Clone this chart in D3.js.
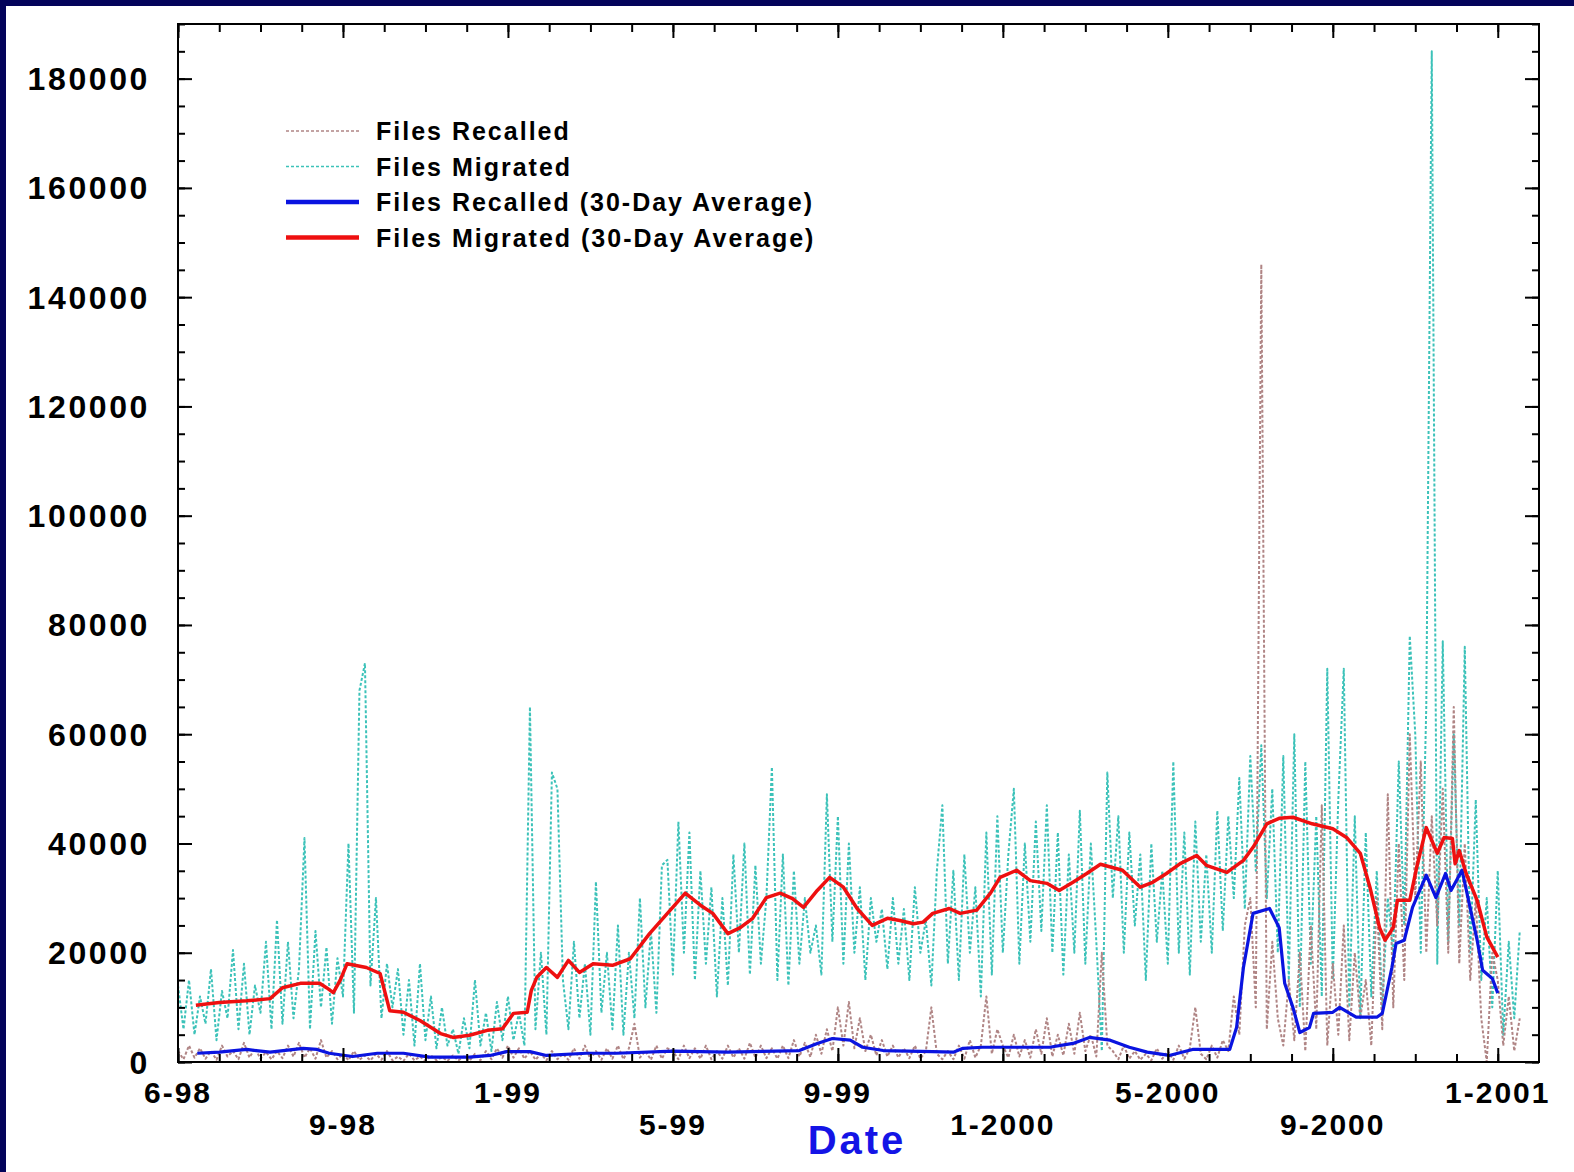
<!DOCTYPE html>
<html>
<head>
<meta charset="utf-8">
<script src="https://cdn.jsdelivr.net/npm/d3@7"></script>
<style>
  html, body { margin: 0; padding: 0; background: #03035a; overflow: hidden; }
  .chart { width: 1574px; height: 1172px; }
  text { font-family: "Liberation Sans", Arial, sans-serif; font-weight: bold; }
</style>
</head>
<body>
<div class="chart"></div>
<script>
// raw daily counts, one sample every STEP days starting 6-98
const STEP = 4;

const filesMigrated = [
  14000, 6000, 15000, 5000, 12000, 7000, 17000, 4000, 13000, 8000,
  20500, 6000, 18000, 5000, 14000, 9000, 22000, 6000, 26000, 7000,
  22000, 8000, 17000, 41000, 6000, 24000, 10000, 21000, 7000, 19000,
  12000, 40000, 9000, 68000, 73000, 14000, 30000, 8000, 18000, 10000,
  17000, 5000, 15000, 3000, 18000, 4000, 12000, 2500, 10000, 3000,
  6000, 1500, 8000, 2500, 15000, 3000, 9000, 2000, 11000, 4000,
  12000, 4000, 9000, 3000, 65000, 6000, 20000, 5000, 53000, 50000,
  15000, 6000, 22000, 8000, 18000, 5000, 33000, 9000, 20000, 6000,
  25000, 5000, 20000, 8000, 30000, 10000, 24000, 9000, 36000, 37000,
  16000, 44000, 20000, 42000, 15000, 35000, 18000, 32000, 12000, 30000,
  14000, 38000, 20000, 40000, 16000, 36000, 18000, 30000, 54000, 15000,
  38000, 14000, 35000, 18000, 30000, 20000, 25000, 16000, 49000, 22000,
  45000, 18000, 40000, 20000, 32000, 15000, 30000, 22000, 28000, 17000,
  30000, 18000, 28000, 15000, 32000, 20000, 26000, 14000, 35000, 47000,
  18000, 35000, 15000, 38000, 20000, 32000, 12000, 42000, 16000, 45000,
  20000, 38000, 50000, 18000, 40000, 22000, 44000, 24000, 47000, 20000,
  42000, 16000, 38000, 20000, 46000, 18000, 40000, 22000, 2000, 53000,
  30000, 45000, 20000, 42000, 25000, 38000, 15000, 40000, 22000, 35000,
  18000, 55000, 20000, 42000, 16000, 44000, 22000, 38000, 20000, 46000,
  24000, 45000, 30000, 52000, 28000, 56000, 35000, 58000, 30000, 50000,
  20000, 56000, 15000, 60000, 10000, 55000, 18000, 45000, 12000, 72000,
  15000, 48000, 72000, 10000, 45000, 8000, 42000, 12000, 35000, 10000,
  30000, 20000, 55000, 25000, 78000, 60000, 20000, 65000, 185000, 18000,
  77000, 22000, 60000, 25000, 76000, 20000, 48000, 15000, 30000, 10000,
  35000, 5000, 22000, 8000, 24000
];

const filesRecalled = [
  2000, 500, 3000, 800, 2500, 600, 2000, 400, 3000, 1000,
  2000, 500, 3500, 800, 2500, 600, 1800, 500, 2000, 700,
  3000, 1000, 3500, 800, 2500, 600, 4000, 800, 2000, 500,
  1500, 300, 2000, 400, 1200, 300, 1500, 400, 2000, 300,
  1000, 200, 1500, 300, 1000, 200, 1200, 300, 900, 200,
  1200, 300, 1000, 200, 1500, 300, 2000, 500, 2500, 800,
  3000, 800, 2500, 600, 2000, 400, 1500, 300, 2000, 500,
  1500, 400, 2500, 600, 3000, 500, 2000, 400, 2500, 600,
  3000, 500, 2500, 7000, 800, 2000, 400, 3000, 600, 2500,
  2000, 500, 3000, 700, 2500, 600, 3000, 500, 2000, 600,
  3000, 800, 2500, 600, 3500, 800, 3000, 700, 2500, 600,
  3000, 700, 4000, 1000, 3500, 900, 5000, 1500, 6000, 2000,
  10000, 3000, 11000, 2500, 8000, 2000, 5000, 1200, 4000, 1000,
  3000, 800, 2500, 700, 3000, 600, 2000, 10000, 1500, 500,
  2000, 500, 3000, 600, 4000, 800, 3000, 12000, 1500, 6000,
  3000, 800, 5000, 1000, 4000, 800, 6000, 1500, 8000, 1000,
  5000, 1200, 7000, 1500, 9000, 2000, 5000, 1000, 20000, 3000,
  2000, 500, 3000, 600, 2000, 400, 1500, 300, 2500, 600,
  2000, 400, 3000, 600, 2500, 10000, 1500, 500, 3000, 800,
  4000, 2000, 12000, 5000, 25000, 30000, 10000, 146000, 6000, 22000,
  8000, 3000, 15000, 4000, 20000, 2000, 25000, 6000, 47000, 3000,
  18000, 5000, 25000, 4000, 20000, 8000, 15000, 3000, 30000, 6000,
  49000, 10000, 40000, 15000, 60000, 30000, 55000, 20000, 45000, 25000,
  50000, 20000, 65000, 18000, 40000, 15000, 30000, 8000, 0, 20000,
  15000, 3000, 12000, 2000, 8000
];

// 30-day running averages, [day since 6-98, files]
const migratedAvg = [
  [13, 10400], [30, 10900], [50, 11200], [67, 11600], [76, 13600], [89, 14400],
  [103, 14400], [108, 13600], [113, 12700], [118, 15000], [123, 18000], [137, 17300],
  [147, 16200], [154, 9400], [164, 9100], [176, 7600], [191, 5200], [200, 4500],
  [212, 4900], [225, 5800], [236, 6100], [244, 8900], [254, 9100], [257, 13100],
  [261, 15500], [268, 17300], [276, 15500], [284, 18600], [292, 16400], [302, 18000],
  [316, 17700], [329, 18900], [343, 23500], [356, 27200], [369, 30900], [380, 28700],
  [389, 27200], [400, 23500], [409, 24600], [418, 26300], [428, 30100], [438, 30900],
  [447, 29900], [455, 28300], [465, 31400], [474, 33800], [484, 32000], [494, 28100],
  [505, 25000], [516, 26300], [525, 25900], [535, 25300], [542, 25600], [549, 27200],
  [561, 28100], [569, 27200], [581, 27800], [591, 30900], [598, 33800], [610, 35100],
  [620, 33200], [632, 32700], [641, 31400], [651, 32900], [661, 34500], [671, 36200],
  [687, 35100], [700, 32000], [709, 32900], [719, 34500], [729, 36300], [741, 37800],
  [748, 36000], [763, 34700], [775, 36900], [782, 39300], [792, 43600], [801, 44600],
  [811, 44800], [825, 43600], [840, 42700], [850, 41100], [860, 38200], [867, 32000],
  [874, 24600], [878, 22300], [884, 24600], [887, 29600], [896, 29600], [901, 35600],
  [908, 42900], [916, 38200], [921, 41100], [927, 40900], [929, 36300], [932, 38700],
  [937, 34500], [945, 29600], [952, 22900], [960, 19200]
];

const recalledAvg = [
  [14, 1600], [30, 1800], [50, 2300], [67, 1800], [91, 2500], [101, 2300],
  [110, 1600], [127, 1000], [145, 1600], [164, 1600], [183, 900], [212, 900],
  [227, 1200], [239, 1900], [256, 1900], [268, 1200], [297, 1600], [319, 1600],
  [360, 2000], [400, 1800], [452, 2100], [465, 3400], [476, 4300], [489, 4000],
  [498, 2700], [513, 2100], [549, 1900], [564, 1800], [571, 2500], [585, 2700],
  [634, 2700], [651, 3400], [663, 4500], [678, 4000], [692, 2700], [705, 1800],
  [721, 1200], [738, 2300], [765, 2300], [770, 6300], [775, 17300], [782, 27200],
  [794, 28100], [801, 24600], [805, 14400], [811, 10000], [816, 5400], [823, 6300],
  [826, 8900], [840, 9100], [845, 10000], [857, 8200], [872, 8200], [876, 8900],
  [883, 17300], [886, 21700], [892, 22300], [898, 28300], [908, 34200], [915, 30100],
  [922, 34500], [926, 31400], [934, 35100], [945, 22300], [949, 16800], [956, 15300],
  [960, 12600]
];

// x labels every 120 days (ticks every 30 days)
const dateLabels = ["6-98", "9-98", "1-99", "5-99", "9-99", "1-2000", "5-2000", "9-2000", "1-2001"];
const yTicks = [0, 20000, 40000, 60000, 80000, 100000, 120000, 140000, 160000, 180000];
const legendNames = [
  "Files Recalled",
  "Files Migrated",
  "Files Recalled (30-Day Average)",
  "Files Migrated (30-Day Average)"
];

function drawChart() {
  const width = 1574, height = 1172;
  const plot = { left: 178, top: 24, right: 1539, bottom: 1062 };

  const svg = d3.select(".chart").append("svg")
    .attr("width", width)
    .attr("height", height);

  // white slide panel
  svg.append("rect")
    .attr("x", 6).attr("y", 6)
    .attr("width", width - 6).attr("height", height - 6)
    .attr("fill", "#ffffff");

  const xScale = d3.scaleLinear().domain([0, 990]).range([plot.left, plot.right]);
  const yScale = d3.scaleLinear().domain([0, 190000]).range([plot.bottom, plot.top]);

  svg.append("clipPath").attr("id", "plot-clip")
    .append("rect")
    .attr("x", plot.left).attr("y", plot.top)
    .attr("width", plot.right - plot.left).attr("height", plot.bottom - plot.top);

  const line = d3.line()
    .x(d => xScale(d[0]))
    .y(d => yScale(d[1]));

  const rawMigrated = filesMigrated.map((v, i) => [i * STEP, v]);
  const rawRecalled = filesRecalled.map((v, i) => [i * STEP, v]);

  const series = [
    { data: rawRecalled, color: "#b08585", width: 2, dash: "3,2" },
    { data: rawMigrated, color: "#3cc2b9", width: 2, dash: "3,2" },
    { data: recalledAvg, color: "#0a14e0", width: 3.2, dash: null },
    { data: migratedAvg, color: "#ee1010", width: 3.5, dash: null }
  ];

  const g = svg.append("g").attr("clip-path", "url(#plot-clip)");
  // migrated raw first, recalled raw over it, then the averages
  [series[1], series[0], series[2], series[3]].forEach(s => {
    g.append("path")
      .datum(s.data)
      .attr("d", line)
      .attr("fill", "none")
      .attr("stroke", s.color)
      .attr("stroke-width", s.width)
      .attr("stroke-dasharray", s.dash)
      .attr("stroke-linejoin", "round");
  });

  // Axes: ticks point into the plot on all four sides
  const minorY = d3.range(0, 190001, 5000);
  const minorX = d3.range(0, 990, 30);
  const majorX = d3.range(0, 961, 120);

  function tickAxis(axis, values, size, transform) {
    svg.append("g")
      .attr("transform", transform)
      .call(axis.tickValues(values).tickSize(size).tickSizeOuter(0).tickFormat(""))
      .call(sel => sel.select(".domain").remove())
      .call(sel => sel.selectAll("line").attr("stroke", "#000").attr("stroke-width", 2));
  }

  tickAxis(d3.axisLeft(yScale), minorY, -7, `translate(${plot.left},0)`);
  tickAxis(d3.axisLeft(yScale), yTicks, -14, `translate(${plot.left},0)`);
  tickAxis(d3.axisRight(yScale), minorY, -7, `translate(${plot.right},0)`);
  tickAxis(d3.axisRight(yScale), yTicks, -14, `translate(${plot.right},0)`);
  tickAxis(d3.axisBottom(xScale), minorX, -8, `translate(0,${plot.bottom})`);
  tickAxis(d3.axisBottom(xScale), majorX, -14, `translate(0,${plot.bottom})`);
  tickAxis(d3.axisTop(xScale), minorX, -8, `translate(0,${plot.top})`);
  tickAxis(d3.axisTop(xScale), majorX, -14, `translate(0,${plot.top})`);

  // frame
  svg.append("rect")
    .attr("x", plot.left).attr("y", plot.top)
    .attr("width", plot.right - plot.left).attr("height", plot.bottom - plot.top)
    .attr("fill", "none")
    .attr("stroke", "#000")
    .attr("stroke-width", 2);

  // y labels
  svg.selectAll(".ylabel")
    .data(yTicks)
    .enter()
    .append("text")
    .attr("class", "ylabel")
    .attr("x", plot.left - 28)
    .attr("y", d => yScale(d))
    .attr("dy", "0.36em")
    .attr("text-anchor", "end")
    .style("font-size", "32px")
    .style("letter-spacing", "2.6px")
    .attr("fill", "#000")
    .text(d => d);

  // x labels, alternating rows
  svg.selectAll(".xlabel")
    .data(dateLabels)
    .enter()
    .append("text")
    .attr("class", "xlabel")
    .attr("x", (d, i) => xScale(i * 120))
    .attr("y", (d, i) => (i % 2 === 0 ? 1092 : 1124))
    .attr("dy", "0.36em")
    .attr("text-anchor", "middle")
    .style("font-size", "30px")
    .style("letter-spacing", "2px")
    .attr("fill", "#000")
    .text(d => d);

  svg.append("text")
    .attr("x", 857)
    .attr("y", 1140)
    .attr("dy", "0.36em")
    .attr("text-anchor", "middle")
    .style("font-size", "40px")
    .style("letter-spacing", "3px")
    .attr("fill", "#1414e6")
    .text("Date");

  // Legend
  const legend = svg.append("g").attr("transform", "translate(286,131)");
  legendNames.forEach((name, i) => {
    const s = series[i];
    const row = legend.append("g").attr("transform", `translate(0,${i * 35.5})`);
    row.append("line")
      .attr("x1", 0).attr("x2", 73)
      .attr("stroke", s.color)
      .attr("stroke-width", s.dash ? 1.6 : 4.5)
      .attr("stroke-dasharray", s.dash);
    row.append("text")
      .attr("x", 90)
      .attr("dy", "0.36em")
      .style("font-size", "25px")
      .style("letter-spacing", "2px")
      .attr("fill", "#000")
      .text(name);
  });
}

drawChart();
</script>
</body>
</html>
